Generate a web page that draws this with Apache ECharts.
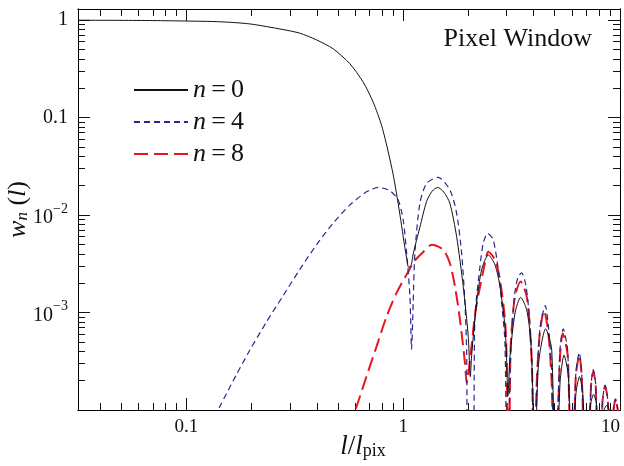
<!DOCTYPE html>
<html><head><meta charset="utf-8">
<script src="https://cdn.jsdelivr.net/npm/echarts@6/dist/echarts.min.js"></script>
<style>html,body{margin:0;padding:0;background:#fff}#c{width:624px;height:466px}</style>
</head><body><div id="c"></div>
<script>
// ---- axis ticks / labels ----
const xMajorTicks = [0.1, 1, 10];
const xMajorLabels = ['0.1', '1', '10'];
const xMinorTicks = [0.04,0.05,0.06,0.07,0.08,0.09,0.2,0.3,0.4,0.5,0.6,0.7,0.8,0.9,2,3,4,5,6,7,8,9];
const yMajorTicks = [1, 0.1, 0.01, 0.001];
const yMajorLabels = ['1', '0.1', '{b|10}{s|\u22122}', '{b|10}{s|\u22123}'];
const yMinorTicks = [2e-4,3e-4,4e-4,5e-4,6e-4,7e-4,8e-4,9e-4,2e-3,3e-3,4e-3,5e-3,6e-3,7e-3,8e-3,9e-3,0.02,0.03,0.04,0.05,0.06,0.07,0.08,0.09,0.2,0.3,0.4,0.5,0.6,0.7,0.8,0.9];

// ---- series (l/l_pix, w_n) ----
const n0 = [[0.0316,0.998],[0.05,0.994],[0.07,0.989],[0.1,0.978],[0.1425,0.962],[0.196,0.914],[0.279,0.80],[0.333,0.735],[0.398,0.627],[0.475,0.508],[0.568,0.356],[0.654,0.231],[0.727,0.144],[0.795,0.083],[0.853,0.0445],[0.899,0.026],[0.948,0.0131],[0.983,0.0078],[1.0,0.0060],[1.037,0.0036],[1.06,0.0029],[1.09,0.0031],[1.112,0.0040],[1.194,0.0075],[1.282,0.0138],[1.36,0.0176],[1.441,0.0192],[1.54,0.0172],[1.642,0.0132],[1.764,0.0060],[1.892,0.00185],[1.995,0.00057],[2.04,0.00022],[2.068,0.00036],[2.18,0.00125],[2.30,0.00275],[2.47,0.0039],[2.65,0.00309],[2.795,0.00185],[2.947,0.00072],[3.0,0.00032],[3.04,0.00014],[3.11,0.000357],[3.28,0.00099],[3.48,0.00143],[3.71,0.00107],[3.87,0.00053],[3.96,0.00015],[4.02,0.00001],[4.2,0.00028],[4.54,0.00068],[4.84,0.00042],[5.05,0.00001],[5.29,0.00019],[5.52,0.000365],[5.78,0.00022],[6.02,0.00001],[6.25,0.00014],[6.5,0.00022],[6.75,0.00014],[7.02,0.00001],[7.3,0.00011],[7.55,0.000145],[7.8,0.000112],[8.02,0.00001],[8.45,0.0001],[8.7,0.000112],[8.9,0.0001],[9.05,0.00001],[10,0.00001]];
const n4 = [[0.1415,0.000105],[0.170,0.00023],[0.196,0.00041],[0.234,0.0008],[0.279,0.00148],[0.333,0.00275],[0.398,0.00495],[0.475,0.00825],[0.568,0.0127],[0.678,0.0173],[0.767,0.0192],[0.868,0.0178],[0.948,0.0143],[1.0,0.0089],[1.037,0.0041],[1.074,0.00147],[1.093,0.00042],[1.112,0.00125],[1.132,0.00407],[1.194,0.0132],[1.282,0.0211],[1.45,0.0244],[1.642,0.0181],[1.764,0.0104],[1.86,0.00407],[1.927,0.00125],[1.962,0.000386],[1.99,0.00001],[2.10,0.00001],[2.14,0.00085],[2.26,0.00297],[2.34,0.00515],[2.45,0.0065],[2.60,0.0056],[2.745,0.00275],[2.845,0.00125],[2.947,0.00049],[3.02,0.00001],[3.12,0.0003],[3.25,0.0014],[3.38,0.0023],[3.52,0.00255],[3.68,0.0019],[3.82,0.0009],[3.93,0.0003],[4.0,0.00001],[4.15,0.00022],[4.28,0.0007],[4.52,0.00118],[4.68,0.0007],[4.85,0.00022],[5.0,0.00001],[5.28,0.0004],[5.47,0.00068],[5.74,0.0004],[6.0,0.00001],[6.25,0.00023],[6.49,0.00039],[6.66,0.00023],[7.0,0.00001],[7.35,0.00018],[7.53,0.00026],[7.73,0.00018],[8.0,0.00001],[8.3,0.00012],[8.53,0.00018],[8.8,0.00012],[9.0,0.00001],[9.3,0.00009],[9.55,0.00013],[9.8,0.00009],[10,0.00001]];
const n8 = [[0.605,0.000103],[0.678,0.000223],[0.754,0.00045],[0.838,0.00091],[0.932,0.00159],[1.037,0.00245],[1.13,0.0034],[1.24,0.0042],[1.352,0.00495],[1.53,0.0044],[1.642,0.0032],[1.733,0.00185],[1.827,0.00085],[1.927,0.000305],[1.962,0.00019],[2.066,0.00045],[2.14,0.00093],[2.22,0.0015],[2.383,0.0032],[2.47,0.0042],[2.65,0.0035],[2.795,0.00217],[2.947,0.00085],[3.0,0.00035],[3.06,0.00001],[3.12,0.00035],[3.165,0.00067],[3.28,0.00147],[3.48,0.00208],[3.71,0.00147],[3.845,0.00067],[3.94,0.000206],[4.0,0.00001],[4.13,0.00019],[4.27,0.00062],[4.46,0.00105],[4.67,0.00062],[4.84,0.00019],[5.0,0.00001],[5.29,0.000357],[5.44,0.00061],[5.74,0.000357],[6.0,0.00001],[6.25,0.00022],[6.49,0.000365],[6.66,0.00022],[7.0,0.00001],[7.35,0.000176],[7.53,0.00025],[7.73,0.000176],[8.0,0.00001],[8.3,0.00012],[8.53,0.000176],[8.8,0.00012],[9.0,0.00001],[9.3,0.00009],[9.55,0.00013],[9.8,0.00009],[10,0.00001]];

const seriesNames = ['n=0', 'n=4', 'n=8'];
const FONT = '"Liberation Serif", "DejaVu Serif", serif';
const XMIN = Math.pow(10, -1.5), XMAX = 10, YMIN = 1e-4, YMAX = 1.3;

function xLab(v) { const i = xMajorTicks.findIndex(t => Math.abs(t - v) < 1e-9 * Math.max(1, t)); return i >= 0 ? xMajorLabels[i] : ''; }
function yLab(v) { const i = yMajorTicks.findIndex(t => Math.abs(t - v) < 1e-6 * t); return i >= 0 ? yMajorLabels[i] : ''; }

const tickStyle = { color: '#111', width: 1 };
function xAx(pos, ticks, len, labels) {
  return {
    type: 'log', logBase: 10, min: XMIN, max: XMAX, position: pos, gridIndex: 0,
    axisLine: { show: true, onZero: false, lineStyle: { color: '#000', width: 1 } },
    axisTick: { show: true, inside: true, length: len, lineStyle: tickStyle, customValues: ticks },
    axisLabel: labels ? { show: true, customValues: ticks, formatter: xLab, margin: 8, alignMaxLabel: 'right', color: '#111', fontFamily: FONT, fontSize: 19 } : { show: false },
    splitLine: { show: false }, minorTick: { show: false }
  };
}
function yAx(pos, ticks, len, labels) {
  return {
    type: 'log', logBase: 10, min: YMIN, max: YMAX, position: pos, gridIndex: 0,
    axisLine: { show: true, onZero: false, lineStyle: { color: '#000', width: 1 } },
    axisTick: { show: true, inside: true, length: len, lineStyle: tickStyle, customValues: ticks },
    axisLabel: labels ? { show: true, customValues: ticks, formatter: yLab, margin: 10, color: '#111', fontFamily: FONT, fontSize: 20,
      rich: { b: { fontFamily: FONT, fontSize: 20, color: '#111', verticalAlign: 'bottom', lineHeight: 26 },
              s: { fontFamily: FONT, fontSize: 14, color: '#111', verticalAlign: 'top', lineHeight: 26 } } } : { show: false },
    splitLine: { show: false }, minorTick: { show: false }
  };
}

const xAxes = [xAx('bottom', xMajorTicks, 12, true), xAx('bottom', xMinorTicks, 7, false), xAx('top', xMajorTicks, 12, false), xAx('top', xMinorTicks, 7, false)];
const yAxes = [yAx('left', yMajorTicks, 12, true), yAx('left', yMinorTicks, 7, false), yAx('right', yMajorTicks, 12, false), yAx('right', yMinorTicks, 7, false)];

xAxes[0].name = '{i|l}{r|/}{i|l}{sub|pix}';
xAxes[0].nameLocation = 'middle';
xAxes[0].nameGap = 20;
xAxes[0].nameMoveOverlap = false;
xAxes[0].nameTextStyle = { padding: [0, 0, 0, 28], rich: {
  i: { fontFamily: FONT, fontStyle: 'italic', fontSize: 27, color: '#111', verticalAlign: 'bottom', lineHeight: 30 },
  r: { fontFamily: FONT, fontSize: 27, color: '#111', verticalAlign: 'bottom', lineHeight: 30 },
  sub: { fontFamily: FONT, fontSize: 18, color: '#111', verticalAlign: 'bottom', lineHeight: 24 } } };

yAxes[0].name = '{i|w}{sub|n}{r| (}{i|l}{r|)}';
yAxes[0].nameLocation = 'middle';
yAxes[0].nameGap = 47;
yAxes[0].nameRotate = 90;
yAxes[0].nameMoveOverlap = false;
yAxes[0].nameTextStyle = { rich: {
  i: { fontFamily: FONT, fontStyle: 'italic', fontSize: 26, color: '#111', verticalAlign: 'bottom', lineHeight: 30 },
  r: { fontFamily: FONT, fontSize: 26, color: '#111', verticalAlign: 'bottom', lineHeight: 30 },
  sub: { fontFamily: FONT, fontStyle: 'italic', fontSize: 17, color: '#111', verticalAlign: 'bottom', lineHeight: 24 } } };

const colors = ['#111111', '#27278f', '#ea1520'];
const lineStyles = [
  { color: colors[0], width: 1, type: 'solid' },
  { color: colors[1], width: 1.2, type: [6, 4] },
  { color: colors[2], width: 2, type: [14, 6] }
];
const datasets = [n0, n4, n8];

const chart = echarts.init(document.getElementById('c'), null, { renderer: 'canvas' });
chart.setOption({
  animation: false,
  backgroundColor: '#fff',
  grid: { left: 78, right: 4, top: 9, bottom: 56, containLabel: false, outerBoundsMode: 'none' },
  title: { text: 'Pixel Window', right: 27, top: 21, textStyle: { fontFamily: FONT, fontWeight: 'normal', fontSize: 26, color: '#111' } },
  legend: {
    orient: 'vertical', left: 133, top: 77, padding: 0, itemWidth: 54, itemHeight: 14, itemGap: 6,
    itemStyle: { opacity: 0 },
    data: seriesNames,
    formatter: name => '{i|n}{r|\u2009=\u2009' + name.slice(2) + '}',
    textStyle: { rich: {
      i: { fontFamily: FONT, fontStyle: 'italic', fontSize: 26, color: '#111', lineHeight: 24 },
      r: { fontFamily: FONT, fontSize: 26, color: '#111', lineHeight: 24 } } }
  },
  xAxis: xAxes,
  yAxis: yAxes,
  series: datasets.map((d, k) => ({
    name: seriesNames[k], type: 'line', xAxisIndex: 0, yAxisIndex: 0,
    data: d, showSymbol: false, symbol: 'none', smooth: 0.25, clip: true,
    lineStyle: lineStyles[k], itemStyle: { color: colors[k] }, z: 3 - k
  }))
});
</script></body></html>
